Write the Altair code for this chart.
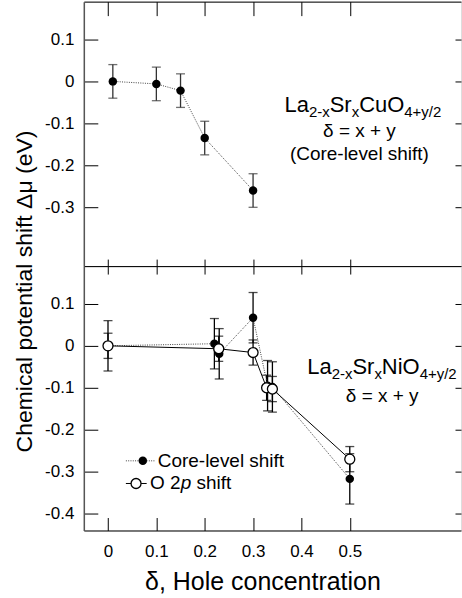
import altair as alt
import pandas as pd

FONT = "Liberation Sans"

# ---------------- data ----------------
x_tick_values = [0, 0.1, 0.2, 0.3, 0.4, 0.5]
y_ticks_top = [0.1, 0, -0.1, -0.2, -0.3]
y_ticks_bottom = [0.1, 0, -0.1, -0.2, -0.3, -0.4]

# La2-xSrxCuO4+y/2, core-level shift
cu_delta = [0.01, 0.10, 0.15, 0.20, 0.30]
cu_shift = [0.0, -0.006, -0.022, -0.135, -0.26]
cu_err = [0.04, 0.04, 0.04, 0.04, 0.04]

# La2-xSrxNiO4+y/2, core-level shift
ni_core_delta = [0.0, 0.22, 0.23, 0.30, 0.33, 0.34, 0.50]
ni_core_shift = [0.0, 0.005, -0.019, 0.067, -0.095, -0.098, -0.317]
ni_core_err = [0.06, 0.06, 0.06, 0.06, 0.06, 0.06, 0.06]

# La2-xSrxNiO4+y/2, O 2p shift
ni_o2p_delta = [0.0, 0.229, 0.30, 0.328, 0.34, 0.50]
ni_o2p_shift = [0.0, -0.007, -0.016, -0.100, -0.103, -0.270]
ni_o2p_err = [0.03, 0.03, 0.03, 0.03, 0.03, 0.03]

# ---------------- scales / axes ----------------
PLOT_W = 378
x_scale = alt.Scale(domain=[-0.05, 0.73], nice=False, zero=False)
y_scale = alt.Scale(domain=[-0.44, 0.19], nice=False, zero=False)

Y_LABEL_EXPR = "datum.value == 0 ? '0' : (datum.value < 0 ? '-' : '') + format(abs(datum.value), '.1f')"
X_LABEL_EXPR = "datum.value == 0 ? '0' : format(datum.value, '.1f')"


def tick_axis(orient, values, size):
    return alt.Axis(orient=orient, values=values, tickSize=size, offset=-size,
                    domain=False, labels=False, grid=False, title=None,
                    tickColor="black", tickWidth=1)


def domain_axis(orient, color="black", width=1.0):
    return alt.Axis(orient=orient, domain=True, domainColor=color, domainWidth=width,
                    ticks=False, labels=False, grid=False, title=None)


def left_label_axis(values, title=None):
    kw = dict(orient="left", values=values, tickSize=14, offset=-14, domain=False,
              grid=False, labelExpr=Y_LABEL_EXPR, labelPadding=10, labelFont=FONT,
              labelFontSize=17, labelColor="black", tickColor="black", tickWidth=1)
    if title is None:
        kw["title"] = None
    else:
        kw.update(title=title, titleFont=FONT, titleFontSize=23, titleFontWeight="normal",
                  titleColor="black", titleAngle=270, titleX=-73, titleY=25,
                  titleAlign="center", titleBaseline="middle")
    return alt.Axis(**kw)


bottom_label_axis = alt.Axis(
    orient="bottom", values=x_tick_values, tickSize=13, offset=-13, domain=False,
    grid=False, labelExpr=X_LABEL_EXPR, labelPadding=13, labelFont=FONT,
    labelFontSize=17, labelColor="black", tickColor="black", tickWidth=1,
    title="δ, Hole concentration", titleFont=FONT, titleFontSize=25,
    titleFontWeight="normal", titleColor="black", titleX=179, titleY=72,
    titleAlign="center", titleBaseline="alphabetic")


def X(field, axis):
    if axis is None:
        return alt.X(field, type="quantitative", scale=x_scale, axis=None)
    return alt.X(field, type="quantitative", scale=x_scale, axis=axis)


def Y(field, axis):
    if axis is None:
        return alt.Y(field, type="quantitative", scale=y_scale, axis=None)
    return alt.Y(field, type="quantitative", scale=y_scale, axis=axis)


# ---------------- text helpers ----------------
ARIAL = {'L': .556, 'a': .556, '2': .556, '-': .333, 'x': .5, 'S': .667, 'r': .333,
         'C': .722, 'u': .556, 'O': .778, '4': .556, '+': .584, 'y': .5, '/': .278,
         'N': .722, 'i': .222, ' ': .278, 'p': .556, 's': .5, 'h': .556, 'f': .278,
         't': .278}


def text_width(s, size):
    return sum(ARIAL.get(c, .556) for c in s) * size


one_row = pd.DataFrame({"k": [0]})


def rich_text(pieces, x, y, baseline="alphabetic"):
    layers = []
    offset = 0.0
    for text, size, dy, style in pieces:
        lead = len(text) - len(text.lstrip(" "))
        offset += text_width(" " * lead, size)
        body = text.lstrip(" ")
        layers.append(
            alt.Chart(one_row).mark_text(
                align="left", baseline=baseline, font=FONT, fontSize=size,
                fontStyle=style, dx=offset, dy=dy, color="black", text=body)
            .encode(x=alt.XDatum(x, axis=None, scale=x_scale),
                    y=alt.YDatum(y, axis=None, scale=y_scale))
        )
        offset += text_width(body, size)
    return layers


def plain_text(text, x, y, size, align="center", baseline="alphabetic"):
    return alt.Chart(one_row).mark_text(
        align=align, baseline=baseline, font=FONT, fontSize=size, color="black",
        text=text).encode(x=alt.XDatum(x, axis=None, scale=x_scale),
                          y=alt.YDatum(y, axis=None, scale=y_scale))


def formula(metal, x, y):
    return rich_text([("La", 22, 0, "normal"), ("2-x", 15, 5, "normal"),
                      ("Sr", 22, 0, "normal"), ("x", 15, 5, "normal"),
                      (metal, 22, 0, "normal"), ("4+y/2", 15, 5, "normal")], x, y)


DOT = [1, 1.3]
CAP = 9
EW = 1.3
FILLED = 72
OPEN = 100

# ---------------- top panel ----------------
cu = pd.DataFrame({"delta": cu_delta, "shift": cu_shift, "err": cu_err})
base_cu = alt.Chart(cu).transform_calculate(lo="datum.shift - datum.err",
                                            hi="datum.shift + datum.err")

top_layers = [
    base_cu.mark_rule(color="#333", strokeWidth=EW).encode(
        x=X("delta", tick_axis("bottom", x_tick_values, 7)),
        y=Y("lo", left_label_axis(y_ticks_top)), y2="hi:Q"),
    base_cu.mark_tick(orient="horizontal", size=CAP, thickness=EW, color="#333").encode(
        x=X("delta", tick_axis("top", x_tick_values, 14)),
        y=Y("lo", tick_axis("right", y_ticks_top, 6))),
    base_cu.mark_tick(orient="horizontal", size=CAP, thickness=EW, color="#333").encode(
        x=X("delta", domain_axis("bottom")),
        y=Y("hi", domain_axis("left", "#555", 1.5))),
    base_cu.mark_line(color="#444", strokeDash=DOT, strokeWidth=1).encode(
        x=X("delta", domain_axis("top")), y=Y("shift", None)),
    base_cu.mark_circle(size=FILLED, color="black", opacity=1).encode(
        x=X("delta", None), y=Y("shift", None)),
]
top_layers += formula("CuO", 0.365, -0.074)
top_layers.append(plain_text("δ = x + y", 0.52, -0.133, 19))
top_layers.append(plain_text("(Core-level shift)", 0.52, -0.188, 19))

top = alt.layer(*top_layers).resolve_axis(x="independent", y="independent") \
    .properties(width=PLOT_W, height=265)

# ---------------- bottom panel ----------------
core = pd.DataFrame({"delta": ni_core_delta, "shift": ni_core_shift, "err": ni_core_err})
o2p = pd.DataFrame({"delta": ni_o2p_delta, "shift": ni_o2p_shift, "err": ni_o2p_err})
base_core = alt.Chart(core).transform_calculate(lo="datum.shift - datum.err",
                                                hi="datum.shift + datum.err")
base_o2p = alt.Chart(o2p).transform_calculate(lo="datum.shift - datum.err",
                                              hi="datum.shift + datum.err")

bot_layers = [
    base_core.mark_rule(color="black", strokeWidth=EW).encode(
        x=X("delta", bottom_label_axis),
        y=Y("lo", left_label_axis(y_ticks_bottom, "Chemical potential shift Δμ (eV)")),
        y2="hi:Q"),
    base_o2p.mark_rule(color="black", strokeWidth=EW).encode(
        x=X("delta", tick_axis("top", x_tick_values, 8)),
        y=Y("lo", tick_axis("right", y_ticks_bottom, 6)), y2="hi:Q"),
    base_core.mark_tick(orient="horizontal", size=CAP, thickness=EW, color="black").encode(
        x=X("delta", domain_axis("bottom")),
        y=Y("lo", domain_axis("left", "#555", 1.5))),
    base_core.mark_tick(orient="horizontal", size=CAP, thickness=EW, color="black").encode(
        x=X("delta", domain_axis("top")), y=Y("hi", None)),
    base_o2p.mark_tick(orient="horizontal", size=CAP, thickness=EW, color="black").encode(
        x=X("delta", None), y=Y("lo", None)),
    base_o2p.mark_tick(orient="horizontal", size=CAP, thickness=EW, color="black").encode(
        x=X("delta", None), y=Y("hi", None)),
    base_core.mark_line(color="#444", strokeDash=DOT, strokeWidth=1).encode(
        x=X("delta", None), y=Y("shift", None)),
    base_o2p.mark_line(color="black", strokeWidth=1).encode(
        x=X("delta", None), y=Y("shift", None)),
    base_core.mark_circle(size=FILLED, color="black", opacity=1).encode(
        x=X("delta", None), y=Y("shift", None)),
    base_o2p.mark_point(shape="circle", filled=True, fill="white", stroke="black",
                        strokeWidth=1.3, size=OPEN, opacity=1).encode(
        x=X("delta", None), y=Y("shift", None)),
]
bot_layers += formula("NiO", 0.412, -0.067)
bot_layers.append(plain_text("δ = x + y", 0.567, -0.134, 19))

# legend (drawn by hand)
LEG_Y1, LEG_Y2 = -0.274, -0.328
bot_layers += [
    alt.Chart(one_row).mark_rule(color="#444", strokeDash=DOT, strokeWidth=1).encode(
        x=alt.XDatum(0.037, axis=None, scale=x_scale), x2=alt.X2Datum(0.096),
        y=alt.YDatum(LEG_Y1, axis=None, scale=y_scale)),
    alt.Chart(one_row).mark_rule(color="black", strokeWidth=1).encode(
        x=alt.XDatum(0.037, axis=None, scale=x_scale), x2=alt.X2Datum(0.080),
        y=alt.YDatum(LEG_Y2, axis=None, scale=y_scale)),
    alt.Chart(one_row).mark_circle(size=FILLED, color="black", opacity=1).encode(
        x=alt.XDatum(0.072, axis=None, scale=x_scale),
        y=alt.YDatum(LEG_Y1, axis=None, scale=y_scale)),
    alt.Chart(one_row).mark_point(shape="circle", filled=True, fill="white", stroke="black",
                                  strokeWidth=1.3, size=OPEN, opacity=1).encode(
        x=alt.XDatum(0.058, axis=None, scale=x_scale),
        y=alt.YDatum(LEG_Y2, axis=None, scale=y_scale)),
    plain_text("Core-level shift", 0.103, LEG_Y1, 19, align="left", baseline="middle"),
]
bot_layers += rich_text([("O 2", 19, 0, "normal"), ("p", 19, 0, "italic"),
                         (" shift", 19, 0, "normal")], 0.087, LEG_Y2, baseline="middle")

bottom = alt.layer(*bot_layers).resolve_axis(x="independent", y="independent") \
    .properties(width=PLOT_W, height=265)

chart = alt.vconcat(top, bottom, spacing=0).properties(
    bounds="flush",
    padding={"left": 13, "top": 0, "right": 0, "bottom": 0},
).configure_view(strokeWidth=0, stroke="transparent").configure(background="white")

chart.save("out.html", embed_options={"renderer": "svg", "actions": False})
